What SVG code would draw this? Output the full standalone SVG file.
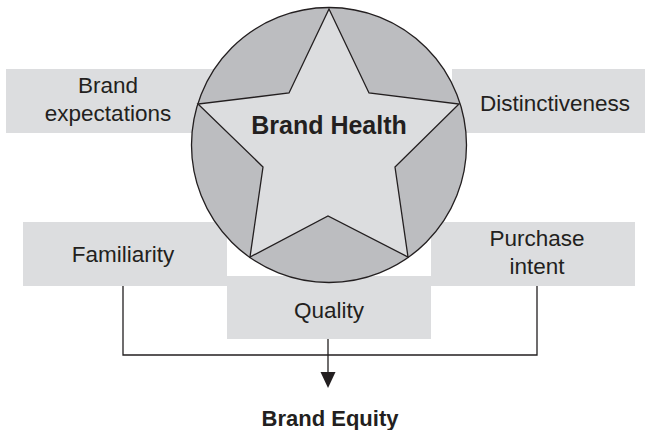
<svg xmlns="http://www.w3.org/2000/svg" width="645" height="430" viewBox="0 0 645 430">
<style>
.box{fill:#dcdddf;}
.lbl{font-family:"Liberation Sans",Arial,sans-serif;font-size:22.5px;fill:#231f20;text-anchor:middle;}
.bold{font-family:"Liberation Sans",Arial,sans-serif;font-weight:bold;fill:#231f20;text-anchor:middle;}
.ln{fill:none;stroke:#231f20;stroke-width:1.3;}
</style>
<defs>
<marker id="arr" markerWidth="15" markerHeight="16" refX="7.5" refY="16" orient="auto-start-reverse" markerUnits="userSpaceOnUse" viewBox="0 0 15 16">
<path d="M0,0 L15,0 L7.5,16 Z" fill="#231f20" transform="rotate(0)"/>
</marker>
</defs>
<rect width="645" height="430" fill="#ffffff"/>
<g id="brand-expectations">
<rect class="box" x="6" y="69" width="254" height="64"/>
<text class="lbl" x="108" y="93">Brand</text>
<text class="lbl" x="108" y="121">expectations</text>
</g>
<g id="distinctiveness">
<rect class="box" x="452" y="69" width="193" height="64"/>
<text class="lbl" x="555" y="110.5">Distinctiveness</text>
</g>
<g id="familiarity">
<rect class="box" x="23" y="222" width="204" height="64"/>
<text class="lbl" x="123" y="262">Familiarity</text>
</g>
<g id="purchase-intent">
<rect class="box" x="431" y="222" width="204" height="64"/>
<text class="lbl" x="537" y="246">Purchase</text>
<text class="lbl" x="537" y="274">intent</text>
</g>
<g id="quality">
<rect class="box" x="227" y="276" width="204" height="63"/>
<text class="lbl" x="329" y="318">Quality</text>
</g>
<g id="brand-health">
<circle cx="329" cy="145" r="137.5" fill="#bcbdc0" stroke="#231f20" stroke-width="1.3"/>
<polygon points="329,9 369,93 459,104 395,167 408,257 328,216 250,257 263,167 198,104 289,93" fill="#dcdddf" stroke="#231f20" stroke-width="1.3" stroke-linejoin="miter"/>
<text class="bold" x="329" y="134" font-size="25">Brand Health</text>
</g>
<g id="connectors">
<polyline class="ln" points="123,286 123,355 537,355 537,286"/>
<line class="ln" x1="328" y1="339" x2="328" y2="372"/>
<path d="M320.5,372 L335.5,372 L328,388 Z" fill="#231f20"/>
</g>
<g id="brand-equity">
<text class="bold" x="330" y="426" font-size="22">Brand Equity</text>
</g>
</svg>
